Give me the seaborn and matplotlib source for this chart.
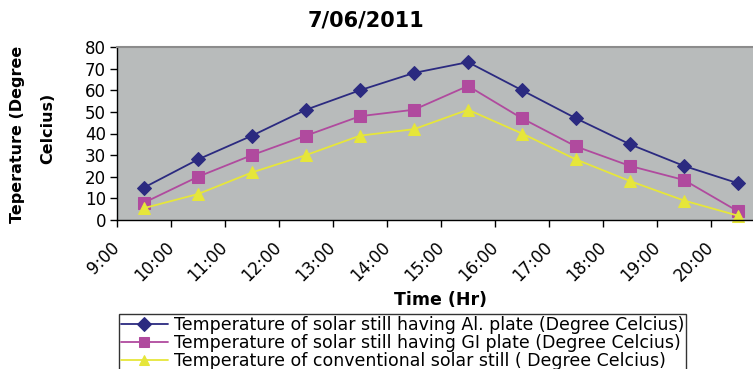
import matplotlib
matplotlib.use("Agg")
import matplotlib.pyplot as plt
import seaborn as sns
import pandas as pd

times = ["9:00", "10:00", "11:00", "12:00", "13:00", "14:00", "15:00",
         "16:00", "17:00", "18:00", "19:00", "20:00"]
al_plate = [15, 28, 39, 51, 60, 68, 73, 60, 47, 35, 25, 17]
gi_plate = [8, 20, 30, 39, 48, 51, 62, 47, 34, 25, 18.5, 4]
conventional = [5.5, 12, 22, 30, 39, 42, 51, 40, 28, 18, 9, 2]

series_names = [
    "Temperature of solar still having Al. plate (Degree Celcius)",
    "Temperature of solar still having GI plate (Degree Celcius)",
    "Temperature of conventional solar still ( Degree Celcius)",
]
series_values = [al_plate, gi_plate, conventional]

rows = []
for name, vals in zip(series_names, series_values):
    for i, v in enumerate(vals):
        rows.append({"pos": i + 0.5, "temp": v, "series": name})
df = pd.DataFrame(rows)

sns.set_style("ticks")
plt.rcParams["font.family"] = ["DejaVu Sans"]
plt.rcParams["text.color"] = "black"
plt.rcParams["axes.labelcolor"] = "black"
plt.rcParams["xtick.color"] = "black"
plt.rcParams["ytick.color"] = "black"

colors = ["#2B2A80", "#B04A9E", "#E6E63A"]
markers = ["D", "s", "^"]
msizes = [7, 8, 9]

fig = plt.figure(figsize=(7.53, 3.69), dpi=100)
ax = fig.add_axes([117 / 753, 1 - 220 / 369, (765 - 117) / 753, (220 - 47) / 369])
ax.set_facecolor("#B8BBBB")

for name, c, m, ms in zip(series_names, colors, markers, msizes):
    sns.lineplot(data=df[df["series"] == name], x="pos", y="temp", ax=ax,
                 color=c, marker=m, markersize=ms, markeredgecolor=c,
                 linewidth=1.3, label=name, clip_on=False)

ax.set_xlim(0, 12)
ax.set_ylim(0, 80)
ax.set_yticks(range(0, 81, 10))
ax.set_xticks(range(len(times)))
ax.set_xticklabels(times, rotation=45, ha="right", va="center",
                   rotation_mode="anchor")
ax.tick_params(axis="x", length=5, width=1, pad=13, labelsize=12, colors="black")
ax.tick_params(axis="y", length=5, width=1, pad=3, labelsize=12, colors="black")
ax.set_xlabel("")
ax.set_ylabel("")

for s in ["left", "bottom"]:
    ax.spines[s].set_color("black")
    ax.spines[s].set_linewidth(1)
ax.spines["top"].set_visible(True)
ax.spines["top"].set_color("#8C8C8C")
ax.spines["top"].set_linewidth(1.5)
ax.spines["right"].set_visible(False)

fig.text(366 / 753, 1 - 20 / 369, "7/06/2011", ha="center", va="center",
         fontsize=15, fontweight="bold", color="black")
fig.text(441 / 753, 1 - 300 / 369, "Time (Hr)", ha="center", va="center",
         fontsize=12.5, fontweight="bold", color="black")
fig.text(18 / 753, 1 - 134 / 369, "Teperature (Degree", rotation=90,
         ha="center", va="center", fontsize=11.5, fontweight="bold", color="black")
fig.text(48 / 753, 1 - 128 / 369, "Celcius)", rotation=90,
         ha="center", va="center", fontsize=11.5, fontweight="bold", color="black")

if ax.legend_:
    ax.legend_.remove()
handles, labels = ax.get_legend_handles_labels()
leg = fig.legend(handles, labels, loc="upper left",
                 bbox_to_anchor=(119 / 753, 1 - 314 / 369),
                 fontsize=12.5, frameon=True, fancybox=False,
                 borderpad=0.1, labelspacing=0.0, handlelength=2.7,
                 handletextpad=0.35, borderaxespad=0)
leg.get_frame().set_edgecolor("black")
leg.get_frame().set_linewidth(1)
for t in leg.get_texts():
    t.set_color("black")
for h in leg.legend_handles:
    h.set_markersize(7)

fig.savefig("out.png", dpi=100)
